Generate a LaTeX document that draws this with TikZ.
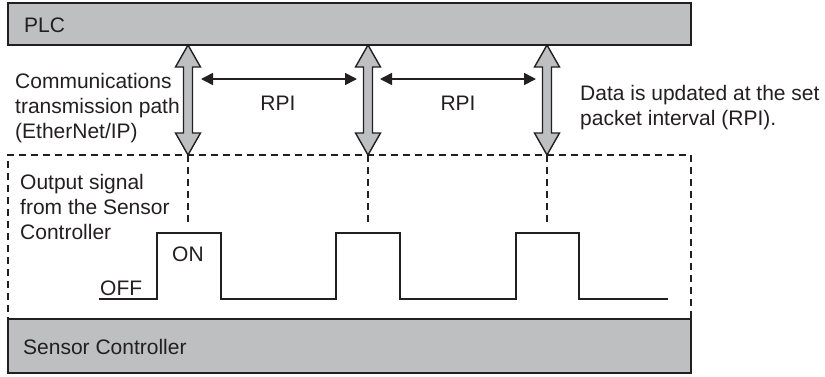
\documentclass[tikz,border=0pt]{standalone}
\usepackage{fontspec}
\setmainfont{Liberation Sans}
\usetikzlibrary{arrows.meta}
\definecolor{boxgray}{RGB}{189,191,193}
\definecolor{ink}{RGB}{35,31,32}
\tikzset{
  txt/.style={inner sep=0pt, font=\fontsize{21}{25}\selectfont, text=ink, align=left},
  unitbox/.style={draw=ink, fill=boxgray, line width=2pt, minimum width=683pt, inner sep=0pt},
  dashbox/.style={draw=ink, line width=1.6pt, dash pattern=on 7pt off 5pt, minimum width=683pt, minimum height=164pt, inner sep=0pt},
  dbarrow/.style={draw=ink, fill=boxgray, line width=1.4pt, line join=miter},
  rpiarrow/.style={draw=ink, line width=1.6pt, {Triangle[length=12pt,width=12pt]}-{Triangle[length=12pt,width=12pt]}},
  guide/.style={draw=ink, line width=1.6pt, dash pattern=on 7pt off 5pt},
  signal/.style={draw=ink, line width=2pt, line join=miter}
}
\begin{document}
\begin{tikzpicture}[x=1pt,y=-1pt]
\useasboundingbox (0,0) rectangle (825,376);
% frame of output signal area
\node[dashbox] (frame) at (349.5,237) {};
% units
\node[unitbox, minimum height=42pt] (plc) at (349.5,24) {};
\node[unitbox, minimum height=54pt] (sensor) at (349.5,346) {};
\node[txt, anchor=base west] (plclbl) at (24,32) {PLC};
\node[txt, anchor=base west] (senslbl) at (23,354) {Sensor Controller};
% double arrows and guide lines
\foreach \i/\x in {1/188,2/368,3/547}{
  \coordinate (top\i) at (\x,45);
  \coordinate (bot\i) at (\x,155);
  \coordinate (gend\i) at (\x,226);
  \draw[dbarrow] (top\i) -- ++(12.5,22) -- ++(-8,0) -- ++(0,66) -- ++(8,0)
     -- (bot\i) -- ++(-12.5,-22) -- ++(8,0) -- ++(0,-66) -- ++(-8,0) -- cycle;
  \draw[guide] (bot\i) -- (gend\i);
}
% RPI arrows
\coordinate (r1a) at (201,79); \coordinate (r1b) at (357,79);
\coordinate (r2a) at (380,79); \coordinate (r2b) at (536,79);
\draw[rpiarrow] (r1a) -- (r1b);
\draw[rpiarrow] (r2a) -- (r2b);
\node[txt, anchor=base] (rpi1) at (278,110) {RPI};
\node[txt, anchor=base] (rpi2) at (458,110) {RPI};
% labels (base anchor = baseline of the last line)
\node[txt, anchor=base west] (comm) at (15,138) {Communications\\transmission path\\(EtherNet/IP)};
\node[txt, anchor=base west] (data) at (580,125) {Data is updated at the set\\packet interval (RPI).};
\node[txt, anchor=base west] (outsig) at (20,239) {Output signal\\from the Sensor\\Controller};
% signal
\coordinate (s0) at (99,299);
\coordinate (s9) at (668,299);
\draw[signal] (s0) -- (157,299) -- (157,233) -- (221,233) -- (221,299)
  -- (336,299) -- (336,233) -- (400,233) -- (400,299)
  -- (516,299) -- (516,233) -- (579,233) -- (579,299) -- (s9);
\node[txt, anchor=base west] (off) at (100,295) {OFF};
\node[txt, anchor=base west] (on) at (172,261) {ON};
\end{tikzpicture}
\end{document}
